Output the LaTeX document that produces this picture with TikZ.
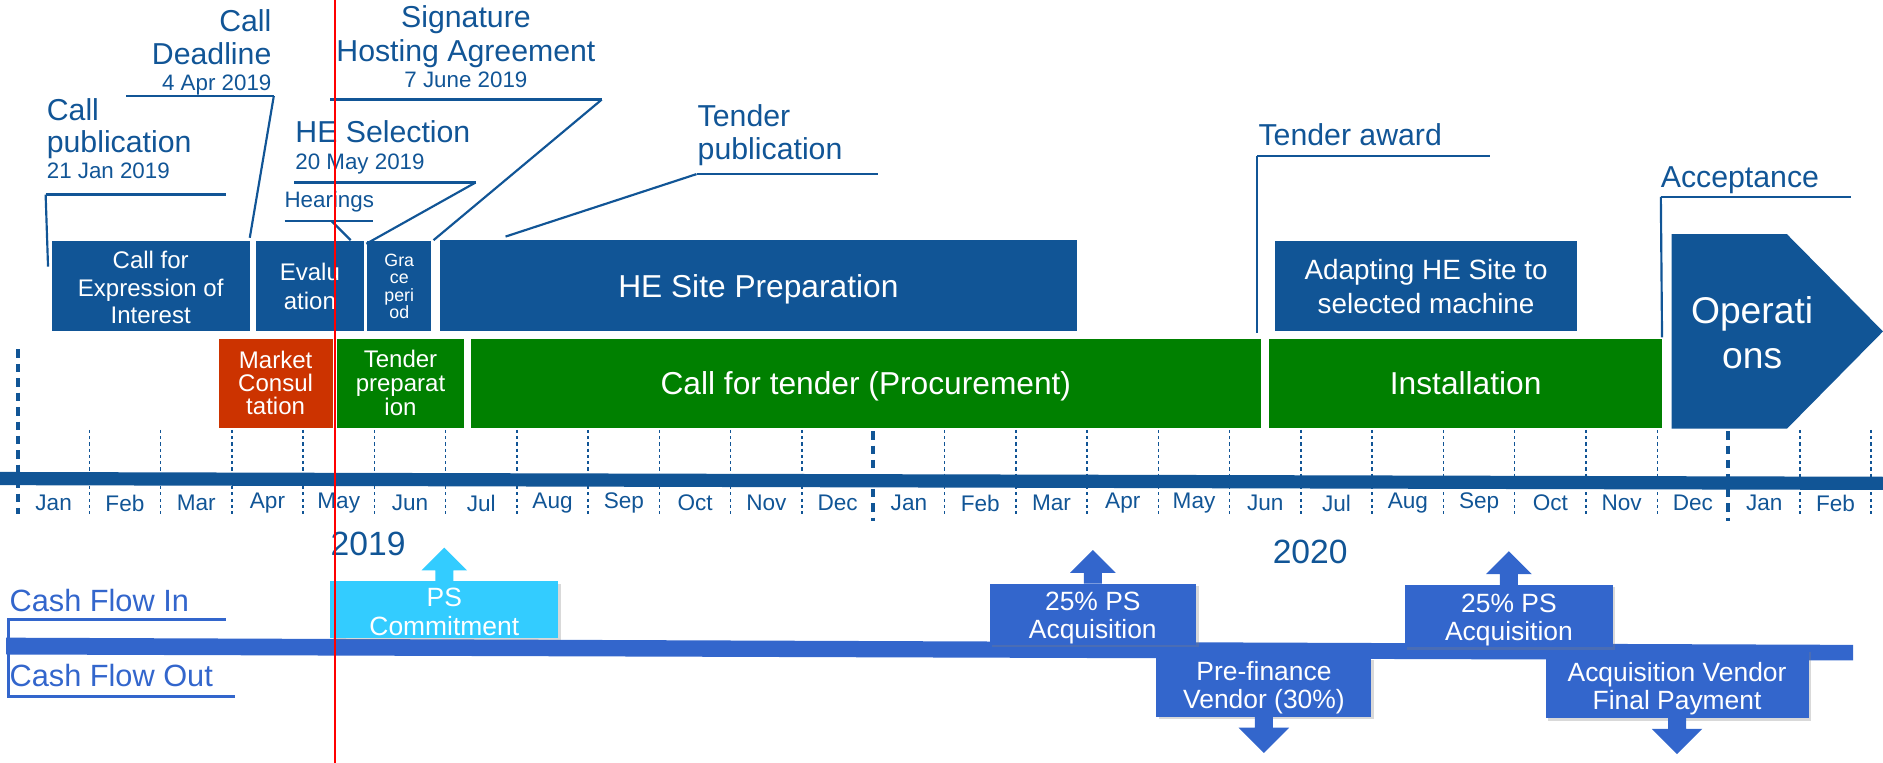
\documentclass[tikz,border=0pt]{standalone}
\usepackage{fontspec}
\setmainfont{Liberation Sans}
\usetikzlibrary{fit,shadows}
\definecolor{hblue}{RGB}{17,85,150}
\definecolor{hgreen}{RGB}{0,128,0}
\definecolor{horange}{RGB}{204,51,0}
\definecolor{hcyan}{RGB}{51,204,255}
\definecolor{cfblue}{RGB}{51,102,204}
\newcommand{\fsz}[2]{\fontsize{#1pt}{#2pt}\selectfont}
\newcommand{\uparr}[2]{\fill[#2] ([xshift=-3.75pt]#1.north) -- ++(0,4.5pt) -- ++(-5.75pt,0) -- ++(9.5pt,9.5pt) -- ++(9.5pt,-9.5pt) -- ++(-5.75pt,0) -- ++(0,-4.5pt) -- cycle;}
\newcommand{\downarr}[2]{\fill[#2] ([xshift=-3.75pt]#1.south) -- ++(0,-4.5pt) -- ++(-6.75pt,0) -- ++(10.5pt,-10.5pt) -- ++(10.5pt,10.5pt) -- ++(-6.75pt,0) -- ++(0,4.5pt) -- cycle;}
\begin{document}
\begin{tikzpicture}[x=0.5pt,y=-0.5pt,
  phase/.style={inner sep=0pt, outer sep=0pt},
  bluephase/.style={phase, fill=hblue},
  greenphase/.style={phase, fill=hgreen},
  btext/.style={inner sep=0pt, outer sep=0pt, text=white, align=center, anchor=center},
  lab/.style={inner sep=0pt, outer sep=0pt, text=hblue, font=\fsz{12.6}{14}},
  datelab/.style={inner sep=0pt, outer sep=0pt, text=hblue, font=\fsz{9.3}{10}},
  uline/.style={hblue, line width=1.1pt},
  leader/.style={hblue, line width=0.9pt},
  tickline/.style={hblue, line width=0.6pt, dash pattern=on 1.3pt off 1.3pt},
  yearline/.style={hblue, line width=1.6pt, dash pattern=on 3.5pt off 2.5pt},
  month/.style={inner sep=0pt, text=hblue, font=\fsz{9.4}{10}},
  yearlab/.style={inner sep=0pt, text=hblue, font=\fsz{14}{16}},
  cash/.style={inner sep=0pt, outer sep=0pt, drop shadow={shadow xshift=1pt, shadow yshift=-1pt, opacity=0.3}},
  ctext/.style={btext, font=\fsz{11}{11.75}},
  cflab/.style={inner sep=0pt, outer sep=0pt, text=cfblue, font=\fsz{12.8}{14}},
]
\useasboundingbox (0,0) rectangle (1568,635);

% ---------- phase boxes, first row ----------
\node[bluephase, fit={(43,201) (208,276)}] (cei) {};
\node[btext, font=\fsz{10}{11.5}] (ceiT) at ([yshift=-0.5pt]cei.center) {Call for\\Expression of\\Interest};
\node[bluephase, fit={(213,201) (303,276)}] (eval) {};
\node[btext, font=\fsz{10}{12}] (evalT) at (eval.center) {Evalu\\ation};
\node[bluephase, fit={(306,201) (359,276)}] (grace) {};
\node[btext, font=\fsz{7.4}{7.3}] (graceT) at (grace.center) {Gra\\ce\\peri\\od};
\node[bluephase, fit={(366,200) (897,276)}] (site) {};
\node[btext, font=\fsz{13.2}{15}] (siteT) at ([yshift=-1.5pt]site.center) {HE Site Preparation};
\node[bluephase, fit={(1062,201) (1313,276)}] (adapt) {};
\node[btext, font=\fsz{11.6}{14}] (adaptT) at (adapt.center) {Adapting HE Site to\\selected machine};

% ---------- phase boxes, second row ----------
\node[phase, fill=horange, fit={(182,282) (277,356)}] (market) {};
\node[btext, font=\fsz{10}{9.6}] (marketT) at (market.center) {Market\\Consul\\tation};
\node[greenphase, fit={(281,282) (386,356)}] (tprep) {};
\node[btext, font=\fsz{10}{10}] (tprepT) at (tprep.center) {Tender\\preparat\\ion};
\node[greenphase, fit={(392,282) (1050,356)}] (tender) {};
\node[btext, font=\fsz{13.2}{15}] (tenderT) at ([yshift=-1.5pt]tender.center) {Call for tender (Procurement)};
\node[greenphase, fit={(1057,282) (1384,356)}] (install) {};
\node[btext, font=\fsz{13.2}{15}] (installT) at (install.center) {Installation};

% ---------- operations arrow ----------
\fill[hblue] (1392,195) -- (1488,195) -- (1568,276) -- (1488,357) -- (1392,357) -- cycle;
\node[btext, font=\fsz{15.5}{19}] (ops) at (1459,277) {Operati\\ons};

% ---------- milestone labels ----------
\node[lab, anchor=base west] (pub1) at (39,100) {Call};
\node[lab, anchor=base west] (pub2) at (39,127) {publication};
\node[datelab, anchor=base west] (pub3) at (39,149) {21 Jan 2019};
\coordinate (pubA) at (38,162); \coordinate (pubB) at (188,162); \coordinate (pubE) at (40,222);
\draw[uline] (pubA) -- (pubB);
\draw[leader] (pubA) -- (pubE);

\node[lab, anchor=base east] (dl1) at (226,26.5) {Call};
\node[lab, anchor=base east] (dl2) at (226,54) {Deadline};
\node[datelab, anchor=base east] (dl3) at (226,75.5) {4 Apr 2019};
\coordinate (dlA) at (105,80); \coordinate (dlB) at (228,80); \coordinate (dlE) at (208,198);
\draw[uline] (dlA) -- (dlB);
\draw[leader] (dlB) -- (dlE);

\node[lab, anchor=base] (sg1) at (388,23) {Signature};
\node[lab, anchor=base] (sg2) at (388,51) {Hosting Agreement};
\node[datelab, anchor=base] (sg3) at (388,73) {7 June 2019};
\coordinate (sgA) at (275,83); \coordinate (sgB) at (501,83); \coordinate (sgE) at (361,200);
\draw[uline] (sgA) -- (sgB);
\draw[leader] (sgB) -- (sgE);

\node[lab, anchor=base west] (hs1) at (246,119) {HE Selection};
\node[datelab, anchor=base west] (hs2) at (246,141) {20 May 2019};
\coordinate (hsA) at (245,152); \coordinate (hsB) at (396,152); \coordinate (hsE) at (305,203);
\draw[uline] (hsA) -- (hsB);
\draw[leader] (hsB) -- (hsE);

\node[datelab, anchor=base west] (hr) at (237,173) {Hearings};
\coordinate (hrA) at (237,184); \coordinate (hrB) at (311,184); \coordinate (hrS) at (276,184); \coordinate (hrE) at (292,200);
\draw[uline] (hrA) -- (hrB);
\draw[leader] (hrS) -- (hrE);

\node[lab, anchor=base west] (tp1) at (581,105) {Tender};
\node[lab, anchor=base west] (tp2) at (581,133) {publication};
\coordinate (tpA) at (580,145); \coordinate (tpB) at (731,145); \coordinate (tpE) at (421,197);
\draw[uline] (tpA) -- (tpB);
\draw[leader] (tpA) -- (tpE);

\node[lab, anchor=base west] (ta) at (1048,121.5) {Tender award};
\coordinate (taA) at (1046.5,130); \coordinate (taB) at (1241,130); \coordinate (taE) at (1046.5,277);
\draw[uline] (taA) -- (taB);
\draw[leader] (taA) -- (taE);

\node[lab, anchor=base west] (ac) at (1383,156) {Acceptance};
\coordinate (acA) at (1383,164); \coordinate (acB) at (1541,164); \coordinate (acE) at (1384,281);
\draw[uline] (acA) -- (acB);
\draw[leader] (acA) -- (acE);

% ---------- timeline ----------
\foreach \k in {1,...,11,13,14,...,23,25,26}
  \draw[tickline] ({15+59.35*\k},358) -- ({15+59.35*\k},430);
\draw[yearline] (15,291) -- (15,428);
\draw[yearline] (727,359) -- (727,434);
\draw[yearline] (1439,359) -- (1439,434);
\fill[hblue] (0,393) -- (1568,397) -- (1568,408) -- (0,404) -- cycle;
\foreach \m [count=\i from 0] in {Jan,Feb,Mar,Apr,May,Jun,Jul,Aug,Sep,Oct,Nov,Dec,Jan,Feb,Mar,Apr,May,Jun,Jul,Aug,Sep,Oct,Nov,Dec,Jan,Feb}
  \node[month] (m\i) at ({15+59.35*(\i+0.5)},419) {\m};
\node[yearlab] (y2019) at (306.5,453) {2019};
\node[yearlab] (y2020) at (1091,460) {2020};

% ---------- cash flow ----------
\fill[cfblue] (5,531) -- (1543,537) -- (1543,550) -- (5,545) -- cycle;
\draw[cfblue, line width=1.3pt] (188,516) -- (7,516) -- (7,580) -- (196,580);
\node[cflab, anchor=base west] (cfin) at (8,509) {Cash Flow In};
\node[cflab, anchor=base west] (cfout) at (8,572) {Cash Flow Out};

\node[cash, fill=hcyan, fit={(275,484) (465,531)}] (ps) {};
\node[ctext] (psT) at ([yshift=-1pt]ps.center) {PS\\Commitment};
\node[cash, fill=cfblue, fit={(824,486) (996,537)}] (acq1) {};
\node[ctext] (acq1T) at ([yshift=-1.5pt]acq1.center) {25\% PS\\Acquisition};
\node[cash, fill=cfblue, fit={(963,548) (1142,597)}] (pre) {};
\node[ctext] (preT) at (pre.center) {Pre-finance\\Vendor (30\%)};
\node[cash, fill=cfblue, fit={(1170,487) (1343,539)}] (acq2) {};
\node[ctext] (acq2T) at ([yshift=-1.5pt]acq2.center) {25\% PS\\Acquisition};
\node[cash, fill=cfblue, fit={(1287,541) (1506,598)}] (avf) {};
\node[ctext] (avfT) at ([yshift=-2pt]avf.center) {Acquisition Vendor\\Final Payment};
\uparr{ps}{hcyan}
\uparr{acq1}{cfblue}
\uparr{acq2}{cfblue}
\downarr{pre}{cfblue}
\downarr{avf}{cfblue}

% ---------- red marker ----------
\draw[red, line width=1pt] (279,0) -- (279,635);
\end{tikzpicture}
\end{document}
